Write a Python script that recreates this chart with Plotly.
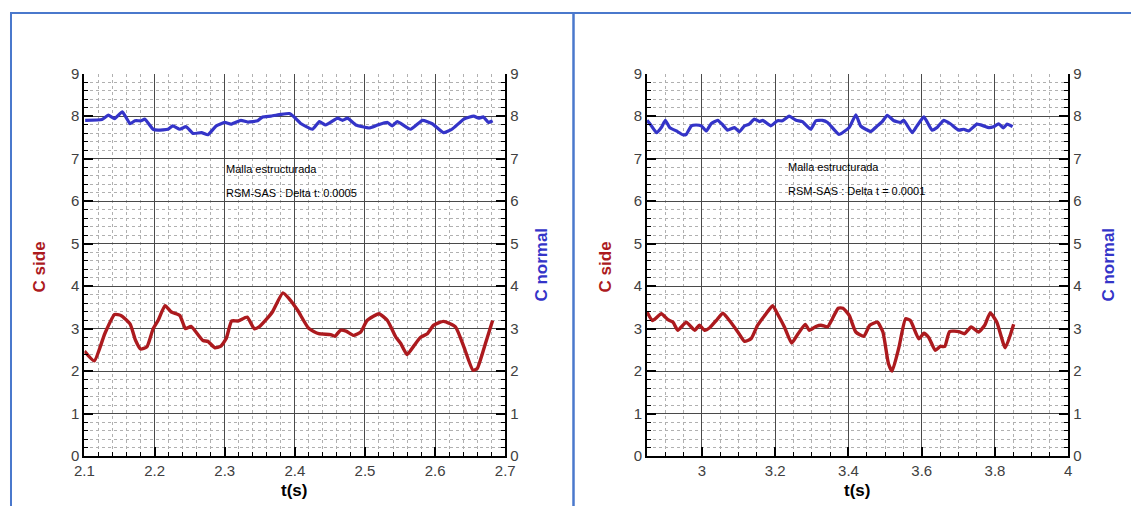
import plotly.graph_objects as go

# ---------------- data ----------------
t_side_a = [2.100, 2.114, 2.129, 2.143, 2.152, 2.165, 2.173, 2.180, 2.189, 2.198, 2.205, 2.215,
            2.224, 2.236, 2.244, 2.252, 2.259, 2.269, 2.276, 2.286, 2.294, 2.302, 2.310, 2.319,
            2.332, 2.342, 2.349, 2.359, 2.368, 2.383, 2.392, 2.404, 2.420, 2.434, 2.451, 2.457,
            2.465, 2.473, 2.484, 2.494, 2.503, 2.520, 2.532, 2.544, 2.551, 2.560, 2.570, 2.579,
            2.589, 2.598, 2.612, 2.629, 2.641, 2.654, 2.660, 2.671, 2.682]
c_side_a = [2.47, 2.24, 2.88, 3.33, 3.31, 3.11, 2.72, 2.52, 2.57, 3.00, 3.19, 3.54,
            3.39, 3.31, 3.00, 3.05, 2.92, 2.72, 2.70, 2.55, 2.58, 2.76, 3.18, 3.18,
            3.27, 3.00, 3.04, 3.21, 3.39, 3.84, 3.70, 3.43, 3.00, 2.88, 2.86, 2.82,
            2.96, 2.94, 2.84, 2.92, 3.19, 3.35, 3.19, 2.80, 2.65, 2.39, 2.60, 2.79,
            2.88, 3.08, 3.17, 3.04, 2.57, 2.02, 2.06, 2.61, 3.19]

t_norm_a = [2.101, 2.125, 2.134, 2.143, 2.154, 2.165, 2.172, 2.181, 2.186, 2.198, 2.205, 2.219,
            2.226, 2.236, 2.245, 2.255, 2.267, 2.276, 2.288, 2.300, 2.309, 2.323, 2.333, 2.347,
            2.354, 2.366, 2.380, 2.392, 2.399, 2.409, 2.425, 2.435, 2.444, 2.461, 2.468, 2.475,
            2.487, 2.506, 2.518, 2.532, 2.539, 2.546, 2.565, 2.582, 2.596, 2.612, 2.624, 2.641,
            2.655, 2.662, 2.669, 2.676, 2.682]
c_norm_a = [7.90, 7.92, 8.02, 7.94, 8.10, 7.82, 7.89, 7.89, 7.93, 7.69, 7.67, 7.69,
            7.77, 7.69, 7.75, 7.59, 7.61, 7.56, 7.77, 7.85, 7.81, 7.90, 7.86, 7.89,
            7.98, 8.00, 8.04, 8.06, 7.98, 7.82, 7.69, 7.87, 7.79, 7.95, 7.90, 7.95,
            7.79, 7.72, 7.79, 7.85, 7.77, 7.87, 7.69, 7.90, 7.82, 7.61, 7.69, 7.93,
            8.00, 7.95, 7.98, 7.85, 7.89]

t_side_b = [2.850, 2.865, 2.889, 2.907, 2.921, 2.934, 2.957, 2.980, 2.993, 3.007, 3.021, 3.039,
            3.057, 3.075, 3.098, 3.116, 3.134, 3.152, 3.175, 3.193, 3.206, 3.225, 3.245, 3.261,
            3.282, 3.293, 3.311, 3.325, 3.343, 3.356, 3.372, 3.385, 3.402, 3.420, 3.442, 3.458,
            3.479, 3.494, 3.509, 3.519, 3.538, 3.556, 3.569, 3.592, 3.606, 3.619, 3.637, 3.651,
            3.663, 3.676, 3.701, 3.717, 3.735, 3.755, 3.772, 3.787, 3.805, 3.828, 3.851]
c_side_b = [3.39, 3.19, 3.35, 3.21, 3.15, 2.96, 3.15, 2.96, 3.08, 2.96, 3.02, 3.19,
            3.36, 3.19, 2.92, 2.70, 2.76, 3.08, 3.35, 3.54, 3.35, 3.04, 2.66, 2.86,
            3.10, 2.96, 3.05, 3.08, 3.04, 3.23, 3.48, 3.48, 3.31, 2.92, 2.82, 3.08,
            3.15, 2.92, 2.18, 2.00, 2.57, 3.23, 3.19, 2.76, 2.89, 2.79, 2.49, 2.58,
            2.58, 2.93, 2.93, 2.88, 3.04, 2.92, 3.08, 3.37, 3.15, 2.55, 3.10]

t_norm_b = [2.850, 2.862, 2.876, 2.889, 2.900, 2.912, 2.930, 2.948, 2.957, 2.971, 2.984, 2.998,
            3.012, 3.025, 3.043, 3.057, 3.070, 3.089, 3.102, 3.116, 3.129, 3.143, 3.157, 3.166,
            3.188, 3.206, 3.220, 3.238, 3.257, 3.274, 3.297, 3.311, 3.329, 3.343, 3.374, 3.402,
            3.420, 3.433, 3.447, 3.461, 3.479, 3.492, 3.506, 3.524, 3.542, 3.551, 3.574, 3.587,
            3.606, 3.628, 3.642, 3.660, 3.678, 3.701, 3.715, 3.728, 3.751, 3.769, 3.783, 3.796,
            3.810, 3.823, 3.833, 3.848]
c_norm_b = [7.90, 7.77, 7.61, 7.73, 7.90, 7.73, 7.65, 7.56, 7.57, 7.77, 7.79, 7.77,
            7.65, 7.82, 7.90, 7.79, 7.67, 7.73, 7.63, 7.77, 7.81, 7.93, 7.87, 7.90,
            7.77, 7.89, 7.89, 8.00, 7.90, 7.87, 7.69, 7.89, 7.90, 7.85, 7.57, 7.73,
            8.03, 7.77, 7.69, 7.64, 7.77, 7.87, 8.02, 7.89, 7.85, 7.90, 7.61, 7.77,
            7.98, 7.67, 7.73, 7.90, 7.82, 7.67, 7.69, 7.65, 7.81, 7.77, 7.73, 7.75,
            7.82, 7.72, 7.81, 7.75]

note_title = "Malla estructurada"
note_a = "RSM-SAS : Delta t: 0.0005"
note_b = "RSM-SAS : Delta t = 0.0001"

# ---------------- styling ----------------
VIEW_W, VIEW_H = 1131, 506
OFF = 8   # page offset of the drawing
W, H = VIEW_W + 2 * OFF, VIEW_H + 2 * OFF
RED = "#AC1A1E"
BLUE = "#3434C8"
FRAME = "#4A78CC"
FONT = "Arial, Liberation Sans, sans-serif"
TICKFONT = dict(family=FONT, size=15, color="#404040")

def px_x(p):
    return (p - OFF) / VIEW_W

def px_y(p):
    return 1 - (p - OFF) / VIEW_H

dom_y = [px_y(456), px_y(72.7)]
dom_a = [px_x(82.7), px_x(505)]
dom_b = [px_x(647.3), px_x(1070)]

LINE_RED = dict(color=RED, width=3.4, shape="spline", smoothing=0.5)
LINE_BLUE = dict(color=BLUE, width=3.2, shape="spline", smoothing=0.4)

fig = go.Figure()
fig.add_trace(go.Scatter(x=t_side_a, y=c_side_a, mode="lines", line=LINE_RED,
                         xaxis="x", yaxis="y", showlegend=False))
fig.add_trace(go.Scatter(x=t_norm_a, y=c_norm_a, mode="lines", line=LINE_BLUE,
                         xaxis="x", yaxis="y2", showlegend=False))
fig.add_trace(go.Scatter(x=t_side_b, y=c_side_b, mode="lines", line=LINE_RED,
                         xaxis="x2", yaxis="y3", showlegend=False))
fig.add_trace(go.Scatter(x=t_norm_b, y=c_norm_b, mode="lines", line=LINE_BLUE,
                         xaxis="x2", yaxis="y4", showlegend=False))

def xax(domain, rng, tick0, dtick, mdtick, anchor):
    return dict(domain=domain, range=rng, tick0=tick0, dtick=dtick, anchor=anchor,
                showline=True, linewidth=2, linecolor="black", mirror=False,
                ticks="inside", ticklen=9, tickwidth=2, tickcolor="black",
                showgrid=True, gridcolor="#4a4a4a", gridwidth=1, zeroline=False,
                tickfont=TICKFONT,
                minor=dict(dtick=mdtick, tick0=tick0, showgrid=True, gridcolor="#b0b0b0",
                           griddash="dot", gridwidth=1, ticks="inside", ticklen=4,
                           tickcolor="black", tickwidth=1))

def yax(domain, anchor, side="left", overlaying=None):
    d = dict(domain=domain, range=[0, 9], dtick=1, tick0=0, anchor=anchor, side=side,
             showline=True, linewidth=2, linecolor="black",
             ticks="inside", ticklen=9, tickwidth=2, tickcolor="black",
             zeroline=False, tickfont=TICKFONT)
    if overlaying:
        d.update(overlaying=overlaying, showgrid=False,
                 minor=dict(dtick=0.2, ticks="inside", ticklen=4, tickcolor="black", tickwidth=1))
    else:
        d.update(showgrid=True, gridcolor="#4a4a4a", gridwidth=1,
                 minor=dict(dtick=0.2, showgrid=True, gridcolor="#b0b0b0", griddash="dot",
                            gridwidth=1, ticks="inside", ticklen=4, tickcolor="black", tickwidth=1))
    return d

fig.update_layout(
    width=W, height=H,
    margin=dict(l=0, r=0, t=0, b=0),
    paper_bgcolor="white", plot_bgcolor="white",
    font=dict(family=FONT),
    xaxis=xax(dom_a, [2.1, 2.7], 2.1, 0.1, 0.02, "y"),
    xaxis2=xax(dom_b, [2.85, 4.0], 3.0, 0.2, 0.05, "y3"),
    yaxis=yax(dom_y, "x"),
    yaxis2=yax(dom_y, "x", side="right", overlaying="y"),
    yaxis3=yax(dom_y, "x2"),
    yaxis4=yax(dom_y, "x2", side="right", overlaying="y3"),
)

ann = []
# axis titles
for cx_side, cx_norm, cx_t in [(38, 541, 293), (606, 1110, 858)]:
    ann.append(dict(text="<b>C side</b>", x=px_x(cx_side), y=px_y(266), xref="paper", yref="paper",
                    xanchor="center", yanchor="middle",
                    textangle=-90, showarrow=False, font=dict(family=FONT, size=17, color=RED)))
    ann.append(dict(text="<b>C normal</b>", x=px_x(cx_norm), y=px_y(264), xref="paper", yref="paper",
                    xanchor="center", yanchor="middle",
                    textangle=-90, showarrow=False, font=dict(family=FONT, size=17, color=BLUE)))
    ann.append(dict(text="<b>t(s)</b>", x=px_x(cx_t), y=px_y(490), xref="paper", yref="paper",
                    xanchor="center", yanchor="middle",
                    showarrow=False, font=dict(family=FONT, size=17, color="black")))
# notes inside the plots
ann += [
    dict(text=note_title, x=2.299, y=6.76, xref="x", yref="y", xanchor="left", yanchor="middle",
         showarrow=False, font=dict(family=FONT, size=11, color="black")),
    dict(text=note_a, x=2.299, y=6.19, xref="x", yref="y", xanchor="left", yanchor="middle",
         showarrow=False, font=dict(family=FONT, size=11, color="black")),
    dict(text=note_title, x=3.229, y=6.81, xref="x2", yref="y3", xanchor="left", yanchor="middle",
         showarrow=False, font=dict(family=FONT, size=11, color="black")),
    dict(text=note_b, x=3.229, y=6.24, xref="x2", yref="y3", xanchor="left", yanchor="middle",
         showarrow=False, font=dict(family=FONT, size=11, color="black")),
]
fig.update_layout(annotations=ann)

# blue frame
shapes = [
    dict(type="line", xref="paper", yref="paper", x0=px_x(8), x1=1, y0=px_y(12), y1=px_y(12),
         line=dict(color=FRAME, width=2)),
    dict(type="line", xref="paper", yref="paper", x0=px_x(9), x1=px_x(9), y0=0, y1=px_y(12),
         line=dict(color=FRAME, width=2)),
    dict(type="line", xref="paper", yref="paper", x0=px_x(573.5), x1=px_x(573.5), y0=0, y1=px_y(12),
         line=dict(color=FRAME, width=2.5)),
]
fig.update_layout(shapes=shapes)

fig.write_html("out.html")
